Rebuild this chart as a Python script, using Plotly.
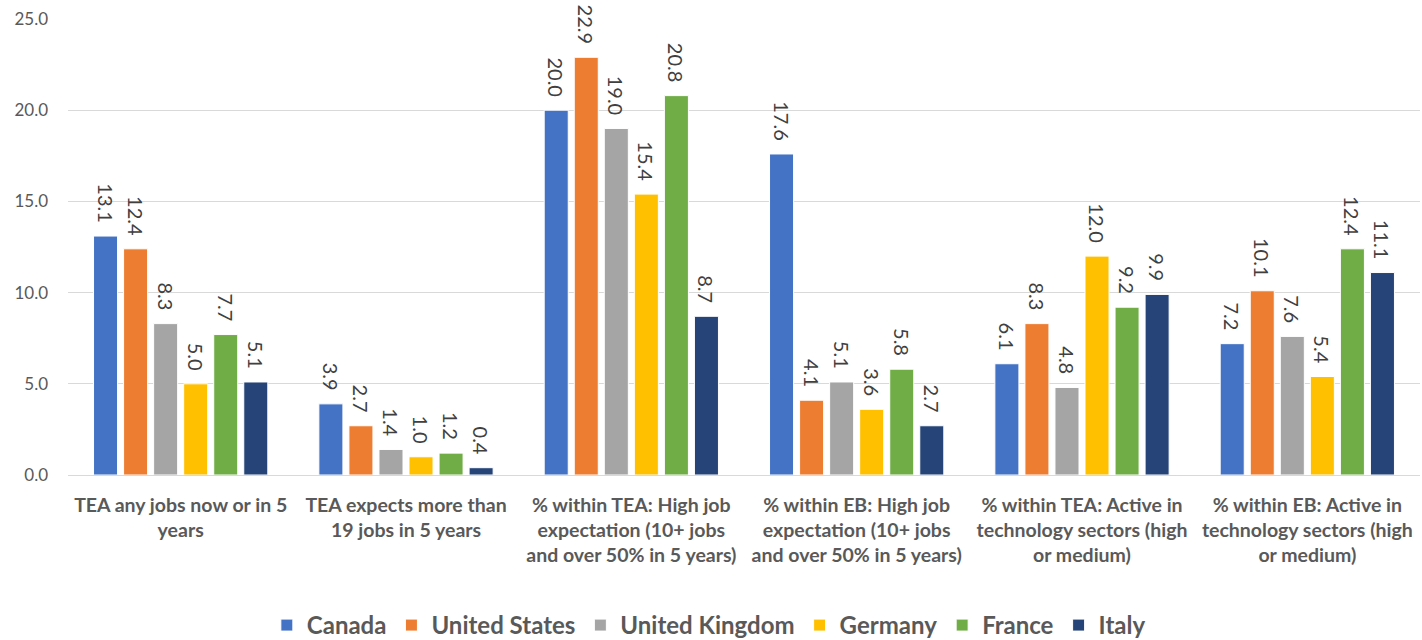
import plotly.graph_objects as go

categories = [
    "TEA any jobs now or in 5<br>years",
    "TEA expects more than<br>19 jobs in 5 years",
    "% within TEA: High job<br>expectation (10+ jobs<br>and over 50% in 5 years)",
    "% within EB: High job<br>expectation (10+ jobs<br>and over 50% in 5 years)",
    "% within TEA: Active in<br>technology sectors (high<br>or medium)",
    "% within EB: Active in<br>technology sectors (high<br>or medium)",
]
canada = [13.1, 3.9, 20.0, 17.6, 6.1, 7.2]
united_states = [12.4, 2.7, 22.9, 4.1, 8.3, 10.1]
united_kingdom = [8.3, 1.4, 19.0, 5.1, 4.8, 7.6]
germany = [5.0, 1.0, 15.4, 3.6, 12.0, 5.4]
france = [7.7, 1.2, 20.8, 5.8, 9.2, 12.4]
italy = [5.1, 0.4, 8.7, 2.7, 9.9, 11.1]

series = [
    ("Canada", canada, "#4472C4"),
    ("United States", united_states, "#ED7D31"),
    ("United Kingdom", united_kingdom, "#A5A5A5"),
    ("Germany", germany, "#FFC000"),
    ("France", france, "#70AD47"),
    ("Italy", italy, "#264478"),
]

FONT = "Lato, 'Noto Sans', sans-serif"
fig = go.Figure()
for name, vals, color in series:
    fig.add_trace(go.Bar(
        name=name, x=categories, y=vals,
        marker=dict(color=color, line=dict(color="white", width=1)),
        text=[f"{v:.1f}\u00a0\u00a0" for v in vals],
        textposition="outside", textangle=90,
        textfont=dict(family=FONT, size=20, color="#404040"),
        constraintext="none", cliponaxis=False,
    ))

fig.update_layout(
    width=1422, height=640,
    margin=dict(l=68, r=2, t=19, b=165, autoexpand=False),
    paper_bgcolor="white", plot_bgcolor="white",
    barmode="group", bargap=0.2, bargroupgap=0.2,
    font=dict(family=FONT, color="#595959"),
    yaxis=dict(range=[0, 25], dtick=5, tickformat=".1f",
               showgrid=True, gridcolor="#D9D9D9", gridwidth=1,
               zeroline=True, zerolinecolor="#D9D9D9", zerolinewidth=1,
               tickfont=dict(family=FONT, size=17, color="#595959"),
               ticks="", showline=False, ticklabelstandoff=19, automargin=False),
    xaxis=dict(tickfont=dict(family=FONT, size=19.5, color="#595959", weight="bold"),
               showline=False, ticks="", ticklabelstandoff=16, automargin=False),
    legend=dict(orientation="h", x=0.474, xanchor="center", y=-0.33, yanchor="middle",
                font=dict(family=FONT, size=24, color="#595959", weight="bold"),
                itemwidth=30, tracegroupgap=0),
)
fig.write_html("out.html")
